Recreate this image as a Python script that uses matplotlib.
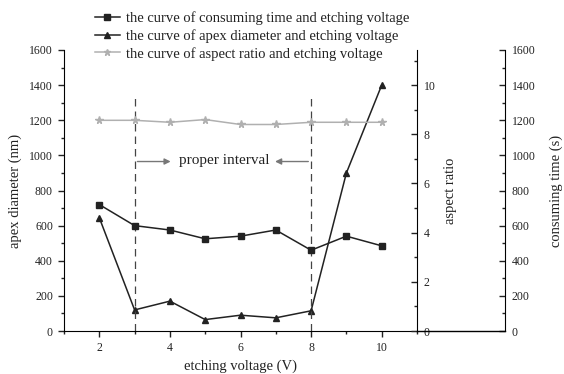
import numpy as np
import matplotlib
matplotlib.use("Agg")
import matplotlib.pyplot as plt
from matplotlib.ticker import MultipleLocator

plt.rcParams['font.family'] = ['Liberation Serif', 'DejaVu Serif']

# data
voltage = [2, 3, 4, 5, 6, 7, 8, 9, 10]
consuming_time = [720, 600, 575, 525, 540, 575, 460, 540, 485]
apex_diameter = [645, 120, 170, 65, 90, 75, 115, 900, 1400]
aspect_ratio = [8.57, 8.57, 8.49, 8.6, 8.4, 8.4, 8.49, 8.49, 8.49]
interval = [3, 8]

dark = '#222222'
grey = '#b0b0b0'

fig = plt.figure(figsize=(5.64, 3.74), dpi=100)
ax = fig.add_axes([64/564, 43/374, 353/564, 281/374])

# apex diameter on the left axis
l2, = ax.plot(voltage, apex_diameter, '-^', color=dark, lw=1.1, ms=5,
              label='the curve of apex diameter and etching voltage')
ax.set_xlim(1, 11)
ax.set_ylim(0, 1600)
ax.xaxis.set_major_locator(MultipleLocator(2))
ax.xaxis.set_minor_locator(MultipleLocator(1))
ax.yaxis.set_major_locator(MultipleLocator(200))
ax.yaxis.set_minor_locator(MultipleLocator(100))
ax.tick_params(which='both', direction='out', labelsize=8.5, color=dark, labelcolor=dark)
ax.tick_params(which='major', length=4.5, width=1)
ax.tick_params(which='minor', length=2.5, width=1)
ax.spines['top'].set_visible(False)
ax.spines['right'].set_visible(False)
ax.set_xlabel('etching voltage (V)', fontsize=10.5, color=dark)
ax.set_ylabel('apex diameter (nm)', fontsize=10.5, color=dark, labelpad=5)

# proper interval marks
for v in interval:
    ax.plot([v, v], [0, 1350], ls=(0, (6, 4)), color='#444444', lw=0.9)
ax.annotate('', xy=(4.1, 965), xytext=(3, 965),
            arrowprops=dict(arrowstyle='-|>', color='#777777', lw=1, mutation_scale=9))
ax.annotate('', xy=(6.9, 965), xytext=(8, 965),
            arrowprops=dict(arrowstyle='-|>', color='#777777', lw=1, mutation_scale=9))
ax.text(5.55, 968, 'proper interval', ha='center', va='center', fontsize=11, color=dark)

# aspect ratio axis
ax2 = ax.twinx()
l3, = ax2.plot(voltage, aspect_ratio, '-*', color=grey, lw=1.1, ms=5.5,
               label='the curve of aspect ratio and etching voltage')
ax2.set_ylim(0, 11.43)
ax2.yaxis.set_major_locator(MultipleLocator(2))
ax2.yaxis.set_minor_locator(MultipleLocator(1))
for s in ['top', 'left', 'bottom']:
    ax2.spines[s].set_visible(False)
ax2.tick_params(which='both', direction='in', labelsize=8.5, color=dark, labelcolor=dark, pad=5)
ax2.tick_params(which='major', length=4.5, width=1)
ax2.tick_params(which='minor', length=2.5, width=1)
ax2.set_ylabel('aspect ratio', fontsize=10.5, color=dark, labelpad=6)

# consuming time axis, offset to the right
ax3 = ax.twinx()
l1, = ax3.plot(voltage, consuming_time, '-s', color=dark, lw=1.1, ms=4.5,
               label='the curve of consuming time and etching voltage')
ax3.set_ylim(0, 1600)
ax3.spines['right'].set_position(('axes', 441/353))
for s in ['top', 'left', 'bottom']:
    ax3.spines[s].set_visible(False)
ax3.yaxis.set_major_locator(MultipleLocator(200))
ax3.yaxis.set_minor_locator(MultipleLocator(100))
ax3.tick_params(which='both', direction='in', labelsize=8.5, color=dark, labelcolor=dark, pad=5)
ax3.tick_params(which='major', length=4.5, width=1)
ax3.tick_params(which='minor', length=2.5, width=1)
ax3.set_ylabel('consuming time (s)', fontsize=10.5, color=dark, labelpad=10)
ax3.plot([1, 441/353], [0, 0], transform=ax3.transAxes, color='black', lw=1, clip_on=False)

fig.legend(handles=[l1, l2, l3], loc='upper left', bbox_to_anchor=(95/564, 1 - 11/374),
           frameon=False, fontsize=10.5, handlelength=1.7, handletextpad=0.4,
           labelspacing=0.28, borderpad=0, borderaxespad=0, labelcolor=dark,
           markerscale=0.85)

fig.savefig('out.png', dpi=100)
